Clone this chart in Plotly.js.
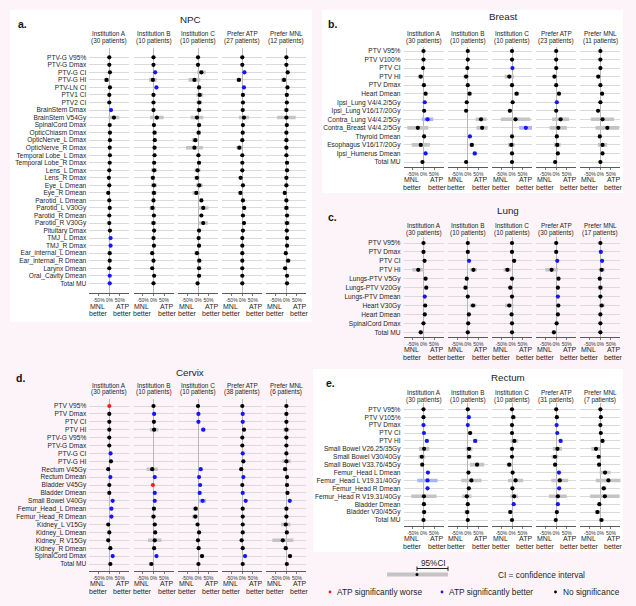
<!DOCTYPE html>
<html><head><meta charset="utf-8">
<script src="https://cdn.plot.ly/plotly-3.0.1.min.js"></script>
<style>html,body{margin:0;padding:0;background:#fcf4f9;}#chart{width:636px;height:606px;}</style>
</head><body><div id="chart"></div>
<script>
// ---------------- DATA ----------------
const colNames = ['Institution A','Institution B','Institution C','Prefer ATP','Prefer MNL'];
const xTickVals = [-50, 0, 50];
const xTickText = ['-50%', '0%', '50%'];
// significance codes: n = no significance, b = ATP significantly better, w = ATP significantly worse

// NPC
const npcRows = ['PTV-G V95%','PTV-G Dmax','PTV-G CI','PTV-G HI','PTV-LN CI','PTV1 CI','PTV2 CI','BrainStem Dmax','BrainStem V54Gy','SpinalCord Dmax','OpticChiasm Dmax','OpticNerve_L Dmax','OpticNerve_R Dmax','Temporal Lobe_L Dmax','Temporal Lobe_R Dmax','Lens_L Dmax','Lens_R Dmax','Eye_L Dmean','Eye_R Dmean','Parotid_L Dmean','Parotid_L V30Gy','Parotid_R Dmean','Parotid_R V30Gy','Pituitary Dmax','TMJ_L Dmax','TMJ_R Dmax','Ear_internal_L Dmean','Ear_internal_R Dmean','Larynx Dmean','Oral_Cavity Dmean','Total MU'];
const npcPatients = [30, 10, 10, 27, 12];
const npcMean = [
  [0,0,3,-13,3,0,0,8,22,2,3,3,2,3,2,0,-2,0,-5,0,2,0,0,3,6,6,2,2,0,2,2],
  [0,0,8,-3,14,0,0,0,16,2,5,6,5,5,3,3,-3,2,2,0,-5,2,0,3,0,2,-6,0,-6,3,0],
  [0,0,16,-17,5,8,6,5,-5,5,3,-13,-17,2,5,-2,-5,6,-8,16,25,16,25,5,3,5,-5,6,5,5,-2],
  [0,0,10,-16,8,3,3,2,8,3,2,0,-14,0,0,0,-8,3,-9,3,9,3,8,3,0,0,0,0,0,0,0],
  [0,0,6,-11,5,2,2,0,0,2,0,0,0,0,3,3,0,0,-8,0,0,3,3,2,3,3,-3,8,-6,3,3]
];
const npcCI = [
  [2,2,3,12,3,2,2,3,26,3,3,4,3,3,3,3,3,3,3,3,4,3,4,3,3,3,3,3,4,3,3],
  [2,2,3,18,3,2,3,4,32,6,10,8,8,6,6,14,10,14,12,4,14,4,12,5,3,4,8,4,5,4,4],
  [2,2,20,28,10,16,14,12,30,10,10,16,40,8,10,14,12,16,18,5,25,4,22,8,8,8,12,10,10,8,4],
  [2,2,3,12,3,6,6,4,24,5,5,4,14,4,4,4,4,6,8,4,6,4,6,4,3,3,3,3,3,3,3],
  [2,2,8,14,5,5,6,10,44,6,8,8,8,8,10,8,8,8,5,8,12,5,14,6,6,6,8,12,8,4,4]
];
const npcSig = ['nnnnnnnbnnnnnnnnnnnnnnnnbbnnnbb','nnbnbnnnnnnnnnnnnnnnnnnnnnnnnnn','nnnnnnnnnnnnnnnnnnnnnnnnnnnnnnn','nnbnbnnnnnnnnnnnnnnnnnnnnnnnnnn','nnnnnnnnnnnnnnnnnnnnnnnnnnnnnnn'];

// Breast
const breastRows = ['PTV V95%','PTV V100%','PTV CI','PTV HI','PTV Dmax','Heart Dmean','Ipsi_Lung V4/4.2/5Gy','Ipsi_Lung V16/17/20Gy','Contra_Lung V4/4.2/5Gy','Contra_Breast V4/4.2/5Gy','Thyroid Dmean','Esophagus V16/17/20Gy','Ipsi_Humerus Dmean','Total MU'];
const breastPatients = [30, 10, 10, 23, 11];
const breastMean = [
  [0,0,-2,-13,2,10,6,3,19,-27,3,-13,10,-5],
  [0,0,-2,-8,0,8,-5,-8,63,68,10,19,33,-8],
  [0,0,2,-13,0,22,3,-10,17,66,0,-3,0,0],
  [0,0,0,-8,0,13,3,0,21,10,3,5,8,-5],
  [0,0,0,-10,0,8,0,-11,10,33,-3,10,10,0]
];
const breastCI = [
  [2,2,2,14,3,8,3,5,27,50,4,43,3,5],
  [2,2,2,12,2,12,5,6,26,27,3,10,10,5],
  [2,2,2,22,2,12,6,10,70,32,2,16,3,3],
  [2,2,2,10,2,8,3,5,40,41,8,16,5,5],
  [2,2,2,10,2,10,5,6,55,56,8,22,6,5]
];
const breastSig = ['nnnnnnbnbnnnbn','nnnnnnnnnnbnbn','nnbnnnnnnbnnnn','nnnnnnbnnnnnnn','nnnnnnnnnnnnnn'];

// Lung
const lungRows = ['PTV V95%','PTV Dmax','PTV CI','PTV HI','Lungs-PTV V5Gy','Lungs-PTV V20Gy','Lungs-PTV Dmean','Heart V30Gy','Heart Dmean','SpinalCord Dmax','Total MU'];
const lungPatients = [30, 10, 10, 30, 17];
const lungMean = [
  [0,0,5,-25,10,13,6,8,6,0,-13],
  [0,0,6,27,-5,-11,0,25,5,2,0],
  [0,0,10,-22,0,-8,0,-13,-2,0,0],
  [0,0,5,-22,11,8,8,10,8,2,-11],
  [0,2,8,6,-3,0,0,6,0,0,0]
];
const lungCI = [
  [2,2,5,28,6,8,3,8,5,4,10],
  [2,2,3,16,3,8,2,15,5,5,3],
  [2,2,10,18,2,6,2,20,6,5,3],
  [2,2,3,30,5,6,3,8,5,5,8],
  [2,2,5,14,5,12,2,14,5,4,4]
];
const lungSig = ['nnnnnnbnnnn','nnbnnnnnnnn','nnnnnnnnnnn','nnbnnnbnnnn','nbbnnnnnnnn'];

// Cervix
const cervixRows = ['PTV V95%','PTV Dmax','PTV CI','PTV HI','PTV-G V95%','PTV-G Dmax','PTV-G CI','PTV-G HI','Rectum V45Gy','Rectum Dmean','Bladder V45Gy','Bladder Dmean','Small Bowel V40Gy','Femur_Head_L Dmean','Femur_Head_R Dmean','Kidney_L V15Gy','Kidney_L Dmean','Kidney_R V15Gy','Kidney_R Dmean','SpinalCord Dmax','Total MU'];
const cervixPatients = [30, 10, 10, 38, 6];
const cervixMean = [
  [0,0,0,0,0,0,6,8,-5,5,0,0,16,10,10,-5,0,-5,5,16,5],
  [0,3,2,3,null,null,null,null,-6,6,-3,6,6,2,0,6,8,6,3,14,-10],
  [0,2,2,25,null,null,null,null,13,5,10,8,22,-11,-13,-2,5,0,3,19,2],
  [0,2,2,8,0,0,2,5,-5,5,0,2,16,2,2,2,2,-3,2,13,2],
  [0,0,0,0,0,0,0,0,-6,3,3,5,16,0,0,-3,2,-17,-3,17,2]
];
const cervixCI = [
  [2,2,2,2,2,2,3,5,4,3,4,3,3,3,3,6,3,8,3,3,3],
  [2,2,2,20,null,null,null,null,27,3,3,3,3,8,10,10,4,32,6,5,12],
  [2,2,2,10,null,null,null,null,3,3,3,3,16,14,15,3,3,6,3,10,3],
  [2,2,2,6,2,2,2,3,5,3,2,2,3,3,2,2,2,6,2,3,2],
  [2,2,2,14,2,2,3,20,10,5,8,6,5,8,5,22,8,50,10,10,4]
];
const cervixSig = ['wnnnnnbnnbnnbbbnnnnbn','nbnnnnnnnbwbbnnnnnnbn','nbbbnnnnbbbbbnnnnnnnn','nbbnnnbnnbnbbnnnnnnbn','nnnnnnnnnnnnbnnnnnnnn'];

// Rectum
const rectumRows = ['PTV V95%','PTV V105%','PTV Dmax','PTV CI','PTV HI','Small Bowel V26.25/35Gy','Small Bowel V30/40Gy','Small Bowel V33.76/45Gy','Femur_Head L Dmean','Femur_Head L V19.31/40Gy','Femur_Head R Dmean','Femur_Head R V19.31/40Gy','Bladder Dmean','Bladder V30/45Gy','Total MU'];
const rectumPatients = [30, 10, 10, 31, 7];
const rectumMean = [
  [0,0,0,2,16,3,-8,-6,21,19,19,2,2,3,0],
  [0,5,0,11,35,6,6,44,3,17,5,-5,0,-3,0],
  [0,6,0,0,11,0,0,-13,3,17,2,10,8,-8,0],
  [0,3,2,5,21,6,-6,-5,13,17,14,8,8,3,-2],
  [0,2,0,2,10,-21,-8,-6,22,38,16,21,-5,-14,5]
];
const rectumCI = [
  [2,2,2,2,3,25,16,8,3,48,3,60,8,10,6],
  [2,2,2,10,10,16,12,34,3,48,3,22,4,12,4],
  [2,12,2,2,18,5,3,12,6,36,6,18,3,10,3],
  [2,2,2,2,8,22,16,10,3,40,3,42,3,6,4],
  [2,2,2,2,8,22,10,8,26,60,12,70,4,12,10]
];
const rectumSig = ['nnbbbnnnbbbnnnn','nbbnbnnnnnnnnnn','nnnnnnnnnnnnbnn','nnbbbnnnbnbnbnn','nnnnnnnnnnnnnnn'];

// ---------------- LAYOUT / DRAWING ----------------
const W = 636, H = 606;
const fx = x => x / W, fy = y => 1 - y / H;
const FONT = '"Liberation Sans", Arial, Helvetica, sans-serif';
const TXT = '#1e1e1e';
const cxL = [109.3, 153.5, 198, 242.3, 286.4];
const cxR = [423.5, 467.8, 512, 556.2, 600.4];

const panels = [
  {letter:'a.', title:'NPC', rows:npcRows, pts:npcPatients, mean:npcMean, ci:npcCI, sig:npcSig,
   cx:cxL, top:47.7, first:57.3, last:283.3, bottom:293.3, tXY:[190,20], lXY:[22,24.5], head:[33,41], box:[10,10,312,322]},
  {letter:'b.', title:'Breast', rows:breastRows, pts:breastPatients, mean:breastMean, ci:breastCI, sig:breastSig,
   cx:cxR, top:46.7, first:51, last:162, bottom:167, tXY:[503,17], lXY:[332,24.5], head:[33.3,40.5], box:[322,10,623,193]},
  {letter:'c.', title:'Lung', rows:lungRows, pts:lungPatients, mean:lungMean, ci:lungCI, sig:lungSig,
   cx:cxR, top:236.7, first:243, last:332.3, bottom:336.7, tXY:[508,211], lXY:[332,217], head:[226,233], box:null},
  {letter:'d.', title:'Cervix', rows:cervixRows, pts:cervixPatients, mean:cervixMean, ci:cervixCI, sig:cervixSig,
   cx:cxL, top:399, first:406, last:564, bottom:571, tXY:[190,372], lXY:[20,378], head:[385,391.5], box:null},
  {letter:'e.', title:'Rectum', rows:rectumRows, pts:rectumPatients, mean:rectumMean, ci:rectumCI, sig:rectumSig,
   cx:cxR, top:403.3, first:409.3, last:520, bottom:526, tXY:[508,377], lXY:[330,383], head:[392.5,399.5], box:[313,369,623,552]}
];

const STY = {n:{m:'#000000', e:'#c4c4c4'}, b:{m:'#1414ff', e:'#aab4ff'}, w:{m:'#ff1a1a', e:'#ffb0b0'}};
const traces = [];
const annotations = [];
const shapes = [];
const layout = {
  width: W, height: H, autosize: false,
  margin: {l:0, r:0, t:0, b:0, pad:0},
  paper_bgcolor: '#fcf4f9', plot_bgcolor: 'rgba(0,0,0,0)',
  showlegend: false, font: {family: FONT, color: TXT}
};

function txt(x, y, t, size, extra) {
  const a = {xref:'paper', yref:'paper', x:fx(x), y:fy(y), text:t, showarrow:false,
    xanchor:'center', yanchor:'middle', borderpad:0,
    font:{family:FONT, size:size, color:TXT}};
  annotations.push(Object.assign(a, extra || {}));
}

panels.forEach((P, pi) => {
  const yName = pi === 0 ? 'y' : 'y' + (pi + 1);
  const firstX = pi * 5 + 1;
  const n = P.rows.length;
  const sp = (P.last - P.first) / (n - 1);
  if (P.box) {
    shapes.push({type:'rect', xref:'paper', yref:'paper', layer:'below',
      x0:fx(P.box[0]), x1:fx(P.box[2]), y0:fy(P.box[3]), y1:fy(P.box[1]),
      fillcolor:'#ffffff', line:{width:0}});
  }
  layout['yaxis' + (pi === 0 ? '' : pi + 1)] = {
    domain:[fy(P.bottom), fy(P.top)], anchor: firstX === 1 ? 'x' : 'x' + firstX,
    type:'category', categoryorder:'array', categoryarray:P.rows,
    tickmode:'array', tickvals:P.rows, ticktext:P.rows,
    range:[n - 1 + (P.bottom - P.last) / sp, -(P.first - P.top) / sp],
    showgrid:true, gridcolor:'#dadada', gridwidth:1, zeroline:false, showline:false,
    ticks:'', ticklabelstandoff:2, tickangle:0,
    tickfont:{size:6.6, color:TXT, family:FONT}, fixedrange:true
  };
  txt(P.tXY[0], P.tXY[1], P.title, 9.8);
  txt(P.lXY[0], P.lXY[1], '<b>' + P.letter + '</b>', 10.5, {font:{family:FONT, size:10.5, color:'#111'}});
  P.mean.forEach((col, ci) => {
    const k = firstX + ci;
    const xName = k === 1 ? 'x' : 'x' + k;
    const cx = P.cx[ci];
    layout['xaxis' + (k === 1 ? '' : k)] = {
      domain:[fx(cx - 20), fx(cx + 20)], anchor:yName, range:[-95, 95],
      showgrid:false, zeroline:true, zerolinecolor:'#b9b9b9', zerolinewidth:1,
      showline:true, linecolor:'#5a5a5a', linewidth:1,
      ticks:'outside', ticklen:2, tickwidth:0.8, tickcolor:'#5a5a5a',
      tickmode:'array', tickvals:xTickVals, ticktext:xTickText, tickangle:0,
      tickfont:{size:5, color:'#333', family:FONT}, fixedrange:true
    };
    ['n', 'b', 'w'].forEach(s => {
      const xs = [], ys = [], es = [];
      col.forEach((v, ri) => {
        if (v === null || P.sig[ci][ri] !== s) return;
        xs.push(v); ys.push(P.rows[ri]); es.push(P.ci[ci][ri]);
      });
      if (!xs.length) return;
      traces.push({type:'scatter', mode:'markers', x:xs, y:ys, xaxis:xName, yaxis:yName,
        marker:{color:STY[s].m, size:4.2, line:{width:0}},
        error_x:{type:'data', array:es, visible:true, color:STY[s].e, thickness:3.6, width:0},
        hoverinfo:'skip', showlegend:false});
    });
    // column headers
    txt(cx, P.head[0], colNames[ci], 6.4);
    txt(cx, P.head[1], '(' + P.pts[ci] + ' patients)', 6.4);
    // direction labels
    const yb = P.bottom;
    txt(cx - 12, yb + 12.7, 'MNL', 7);
    txt(cx - 11, yb + 20.5, 'better', 7);
    txt(cx + 13, yb + 12.7, 'ATP', 7);
    txt(cx + 13.5, yb + 20.5, 'better', 7);
  });
});

// ---- key (explanatory legend) ----
txt(433, 563, '95%CI', 8.2);
shapes.push({type:'line', xref:'paper', yref:'paper', x0:fx(387), x1:fx(448), y0:fy(574.5), y1:fy(574.5), line:{color:'#c4c4c4', width:4}});
shapes.push({type:'line', xref:'paper', yref:'paper', x0:fx(417), x1:fx(448), y0:fy(568.5), y1:fy(568.5), line:{color:'#222', width:1}});
shapes.push({type:'line', xref:'paper', yref:'paper', x0:fx(417), x1:fx(417), y0:fy(566.5), y1:fy(571), line:{color:'#222', width:1}});
shapes.push({type:'line', xref:'paper', yref:'paper', x0:fx(448), x1:fx(448), y0:fy(566.5), y1:fy(571), line:{color:'#222', width:1}});
shapes.push({type:'circle', xref:'paper', yref:'paper', x0:fx(415.5), x1:fx(418.5), y0:fy(576), y1:fy(573), fillcolor:'#000', line:{width:0}});
txt(497, 574.5, 'CI = confidence interval', 8.3, {xanchor:'left'});
const keyItems = [[330, '#ff1a1a', 'ATP significantly worse'], [442, '#1414ff', 'ATP significantly better'], [555.5, '#000000', 'No significance']];
keyItems.forEach(k => {
  shapes.push({type:'circle', xref:'paper', yref:'paper', x0:fx(k[0] - 1.4), x1:fx(k[0] + 1.4), y0:fy(593.4), y1:fy(590.6), fillcolor:k[1], line:{width:0}});
  txt(k[0] + 6, 592, k[2], 8.3, {xanchor:'left'});
});

layout.annotations = annotations;
layout.shapes = shapes;
Plotly.newPlot('chart', traces, layout, {staticPlot:true, displayModeBar:false});
</script>
</body></html>
